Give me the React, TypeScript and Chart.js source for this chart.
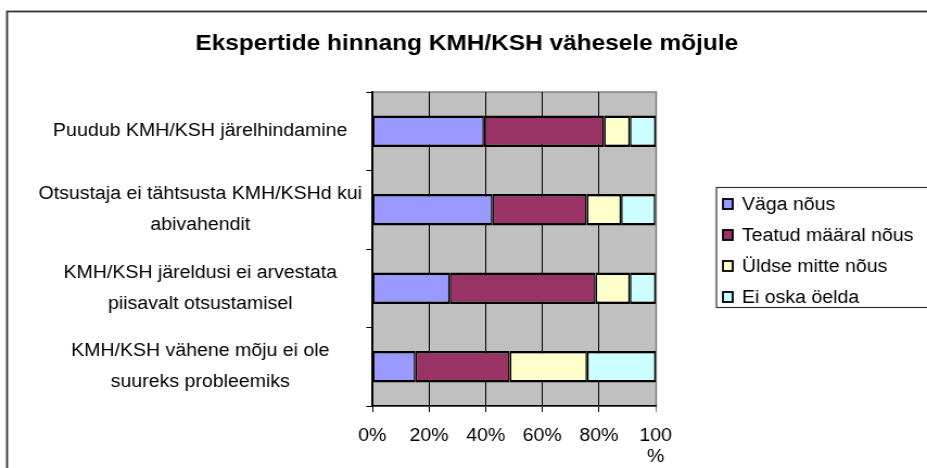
import React, { useEffect, useRef } from "react";
import { Chart, registerables } from "chart.js";

Chart.register(...registerables);

const TITLE = "Ekspertide hinnang KMH/KSH vähesele mõjule";
const CATEGORIES: string[][] = [
  ["Puudub KMH/KSH järelhindamine"],
  ["Otsustaja ei tähtsusta KMH/KSHd kui", "abivahendit"],
  ["KMH/KSH järeldusi ei arvestata", "piisavalt otsustamisel"],
  ["KMH/KSH vähene mõju ei ole", "suureks probleemiks"],
];
const SERIES_NAMES = ["Väga nõus", "Teatud määral nõus", "Üldse mitte nõus", "Ei oska öelda"];
const VAGA_NOUS = [39.4, 42.4, 27.3, 15.2];
const TEATUD_MAARAL = [42.4, 33.3, 51.5, 33.3];
const ULDSE_MITTE = [9.1, 12.1, 12.1, 27.3];
const EI_OSKA = [9.1, 12.1, 9.1, 24.2];
const X_TICKS = [0, 20, 40, 60, 80, 100];
const COLORS = ["#9999FF", "#993366", "#FFFFCC", "#CCFFFF"];

const FONT = "'Liberation Sans', Arial, sans-serif";
const W = 854; // internal width, stretched to 927 px on screen
const H = 468;

export default function App() {
  const ref = useRef<HTMLCanvasElement>(null);

  useEffect(() => {
    document.body.style.margin = "0";
    const canvas = ref.current!;
    const values = [VAGA_NOUS, TEATUD_MAARAL, ULDSE_MITTE, EI_OSKA];

    const decor = {
      id: "decor",
      beforeDraw(chart: any) {
        const { ctx, chartArea: a } = chart;
        ctx.save();
        ctx.fillStyle = "#FFFFFF";
        ctx.fillRect(0, 0, W, H);
        ctx.fillStyle = "#C0C0C0";
        ctx.fillRect(a.left, a.top, a.right - a.left, a.bottom - a.top);
        ctx.strokeStyle = "#808080";
        ctx.lineWidth = 1.5;
        ctx.strokeRect(a.left, a.top, a.right - a.left + 0.5, a.bottom - a.top);
        ctx.restore();
      },
      afterDraw(chart: any) {
        const { ctx } = chart;
        ctx.save();
        // outer frame
        ctx.strokeStyle = "#333333";
        ctx.lineWidth = 1.8;
        ctx.strokeRect(6.5, 11.5, W + 50, H + 50);
        // title
        ctx.fillStyle = "#000";
        ctx.font = `bold 22.5px ${FONT}`;
        ctx.textAlign = "center";
        ctx.textBaseline = "middle";
        ctx.fillText(TITLE, 430, 44);
        // legend
        ctx.strokeStyle = "#333333";
        ctx.lineWidth = 1.2;
        ctx.strokeRect(660, 187.5, W, 120);
        ctx.font = `18px ${FONT}`;
        ctx.textAlign = "left";
        chart.data.datasets.forEach((ds: any, i: number) => {
          const y = 204 + i * 31;
          ctx.fillStyle = ds.backgroundColor;
          ctx.fillRect(666, y - 5, 9, 10);
          ctx.strokeStyle = "#000";
          ctx.lineWidth = 1.8;
          ctx.strokeRect(666, y - 5, 9, 10);
          ctx.fillStyle = "#000";
          ctx.fillText(ds.label, 683.5, y + 1);
        });
        ctx.restore();
      },
    };

    const chart = new Chart(canvas, {
      type: "bar",
      data: {
        labels: CATEGORIES,
        datasets: SERIES_NAMES.map((name, i) => ({
          label: name,
          data: values[i],
          backgroundColor: COLORS[i],
          borderColor: "#000000",
          borderWidth: { top: 2.5, bottom: 2.5, left: 1.5, right: 1.5 },
          borderSkipped: false,
          barPercentage: 0.4,
          categoryPercentage: 1,
        })),
      },
      options: {
        indexAxis: "y",
        responsive: false,
        animation: false,
        devicePixelRatio: 1,
        layout: { padding: { top: 92, right: 250, bottom: 0, left: 0 } },
        plugins: {
          legend: { display: false },
          title: { display: false },
          tooltip: { enabled: false },
        },
        scales: {
          x: {
            stacked: true,
            min: 0,
            max: 100,
            afterBuildTicks: (s: any) => {
              s.ticks = X_TICKS.map((v) => ({ value: v }));
            },
            afterFit: (s: any) => {
              s.height = 62;
            },
            ticks: {
              color: "#000",
              font: { family: FONT, size: 18, lineHeight: 1.15 },
              padding: 14,
              maxRotation: 0,
              autoSkip: false,
              callback: (v: any) => (Number(v) === 100 ? ["100", "%"] : `${v}%`),
            },
            grid: {
              color: (c: any) => (c.tick && c.tick.value === 100 ? "#808080" : "#000000"),
              lineWidth: 1,
              drawTicks: true,
              tickLength: 6,
            },
            border: { display: true, color: "#000", width: 1.6 },
          },
          y: {
            stacked: true,
            afterFit: (s: any) => {
              s.width = 343;
            },
            ticks: {
              color: "#000",
              font: { family: FONT, size: 18, lineHeight: 1.72 },
              crossAlign: "center",
              padding: 4,
              autoSkip: false,
            },
            grid: {
              offset: true,
              drawOnChartArea: false,
              drawTicks: true,
              tickLength: 5.5,
              color: "#000",
            },
            border: { display: true, color: "#000", width: 1.6 },
          },
        },
      },
      plugins: [decor],
    });
    return () => chart.destroy();
  }, []);

  return (
    <div style={{ width: "927px", height: "468px" }}>
      <canvas
        ref={ref}
        width={W}
        height={H}
        style={{ width: "927px", height: "468px", display: "block" }}
      />
    </div>
  );
}
